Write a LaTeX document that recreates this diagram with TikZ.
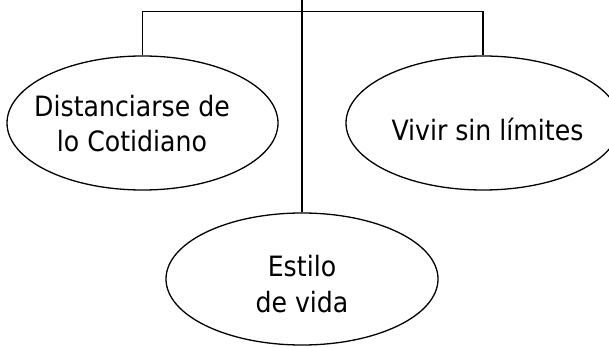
\documentclass[tikz,border=0pt]{standalone}
\usepackage{fontspec}
\setmainfont{DejaVu Sans Condensed}
\usetikzlibrary{shapes.geometric}
\tikzset{
  oval/.style={draw, ellipse, inner sep=0pt, line width=1.3pt},
  lbl/.style={inner sep=0pt, align=center, font=\fontsize{28}{35.5}\selectfont},
  conn/.style={draw, line width=1.3pt}
}
\begin{document}
\begin{tikzpicture}[x=1pt, y=-1pt]
\useasboundingbox (0,0) rectangle (609,347);
\clip (0,0) rectangle (609,347);
% ellipses
\node[oval, minimum width=271pt, minimum height=134pt] (L) at (142.5,123) {};
\node[oval, minimum width=274pt, minimum height=134pt] (R) at (483,123) {};
\node[oval, minimum width=272pt, minimum height=132pt] (B) at (302,279) {};
% texts
\node[lbl] (Lt) at (132,123.5) {Distanciarse de\\lo Cotidiano};
\node[lbl, anchor=base] (Rt) at (487.5,140.7) {Vivir sin límites};
\node[lbl] (Bt) at (302,284) {Estilo\\de vida};
% connectors
\coordinate (top) at (302,0);
\coordinate (bar) at (302,11.5);
\draw[conn] (L.north) |- (bar) -| (R.north);
\draw[conn] (top) -- (B.north);
\end{tikzpicture}
\end{document}
